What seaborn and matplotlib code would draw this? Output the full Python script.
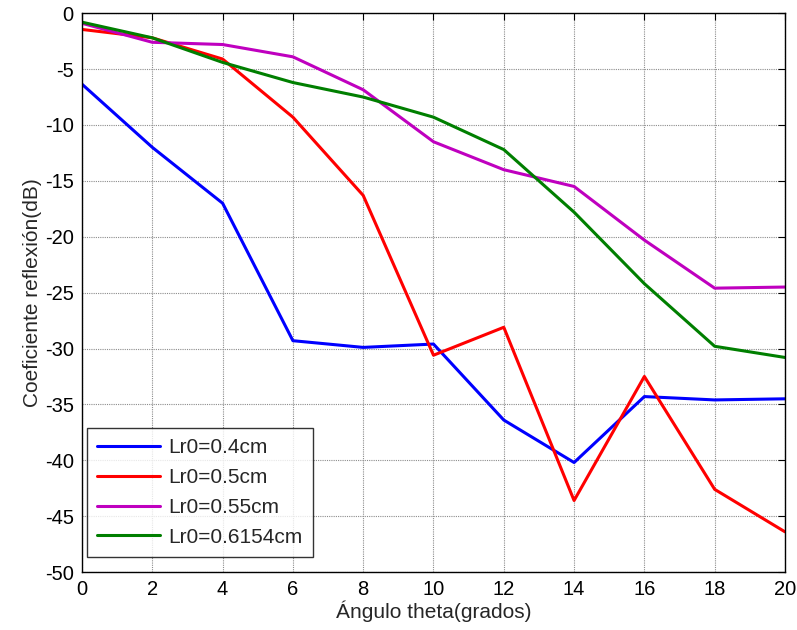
import numpy as np
import pandas as pd
import matplotlib
matplotlib.use("Agg")
import matplotlib.pyplot as plt
import seaborn as sns

theta = [0, 2, 4, 6, 8, 10, 12, 14, 16, 18, 20]
lr04 = [-6.35, -12.0, -17.0, -29.3, -29.9, -29.6, -36.4, -40.2, -34.3, -34.6, -34.5]
lr05 = [-1.45, -2.2, -4.1, -9.3, -16.3, -30.6, -28.1, -43.6, -32.5, -42.6, -46.4]
lr055 = [-0.9, -2.6, -2.8, -3.9, -6.85, -11.5, -14.0, -15.5, -20.3, -24.6, -24.5]
lr06154 = [-0.8, -2.2, -4.4, -6.2, -7.5, -9.3, -12.2, -17.8, -24.2, -29.8, -30.8]
labels = ["Lr0=0.4cm", "Lr0=0.5cm", "Lr0=0.55cm", "Lr0=0.6154cm"]
colors = ["#0000ff", "#ff0000", "#bf00bf", "#007f00"]

df = pd.DataFrame({
    "theta": theta * 4,
    "val": lr04 + lr05 + lr055 + lr06154,
    "serie": sum([[l] * len(theta) for l in labels], []),
})

sns.set_style("white")
plt.rcParams["font.family"] = ["Liberation Sans", "DejaVu Sans"]
plt.rcParams["axes.unicode_minus"] = False

fig = plt.figure(figsize=(7.97, 6.3), dpi=100)
ax = fig.add_axes([0.1029, 0.092, 0.882, 0.887])
sns.lineplot(data=df, x="theta", y="val", hue="serie", palette=colors,
             hue_order=labels, linewidth=2.2, ax=ax, legend=True)

ax.set_xlim(0, 20)
ax.set_ylim(-50, 0)
ax.set_xticks(np.arange(0, 21, 2))
ax.set_yticks(np.arange(-50, 1, 5))
ax.grid(True, color="#8c8c8c", linestyle=(0, (1, 1)), linewidth=0.8)
ax.tick_params(direction="in", length=5, top=True, right=True,
               labelsize=14.5, width=0.8, pad=6, colors="black")
for s in ax.spines.values():
    s.set_color("black")
    s.set_linewidth(1.0)
ax.set_xlabel("Ángulo theta(grados)", fontsize=15, labelpad=1)
ax.set_ylabel("Coeficiente reflexión(dB)", fontsize=15, labelpad=2)

leg = ax.legend(loc="lower left", bbox_to_anchor=(5 / 703, 15 / 559),
                fontsize=15, handlelength=3.0,
                frameon=True, fancybox=False, borderaxespad=0,
                labelspacing=0.52, borderpad=0.5, handletextpad=0.4)
leg.get_frame().set_edgecolor("black")
leg.get_frame().set_linewidth(1.0)
for line in leg.get_lines():
    line.set_linewidth(2.2)

fig.savefig("out.png", dpi=100)
